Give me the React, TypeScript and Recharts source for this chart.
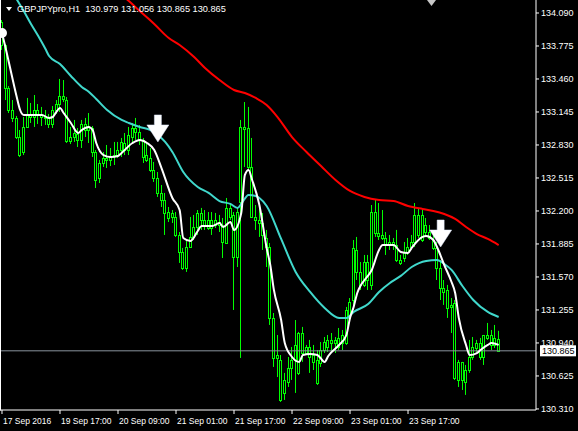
import React from 'react';
import { ComposedChart, Bar, Line, Scatter, XAxis, YAxis, ReferenceLine } from 'recharts';

// H1 bars, left to right
const opens = [
  134.004, 133.785, 133.374, 133.164, 133.088, 132.906, 132.763, 133.002, 133.116, 133.097,
  133.164, 133.126, 133.097, 133.088, 133.030, 133.164, 133.221, 133.298, 133.259, 132.868,
  132.906, 132.935, 132.878, 133.030, 132.973, 132.992, 132.763, 132.515, 132.658, 132.706,
  132.687, 132.725, 132.734, 132.782, 132.849, 132.782, 132.906, 132.992, 132.954, 132.878,
  132.734, 132.706, 132.591, 132.515, 132.372, 132.305, 132.190, 132.181, 132.143, 131.971,
  131.809, 131.656, 131.856, 131.952, 132.047, 132.181, 132.114, 132.114, 132.038, 132.114,
  132.066, 132.066, 131.894, 132.229, 132.162, 131.761, 132.286, 132.983, 132.992, 132.620,
  132.143, 132.114, 132.085, 131.942, 131.856, 131.179, 130.797, 130.778, 130.463, 130.568,
  130.701, 130.778, 130.654, 131.035, 130.844, 130.902, 130.825, 130.778, 130.749, 130.873,
  130.902, 130.969, 130.940, 130.902, 130.940, 130.940, 131.179, 131.350, 131.828, 131.618,
  131.494, 131.713, 131.494, 132.190, 131.990, 131.971, 131.942, 131.875, 131.904, 131.875,
  131.732, 131.751, 131.809, 131.856, 131.904, 131.971, 131.923, 132.066, 131.999, 131.923,
  131.847, 131.656, 131.465, 131.446, 131.284, 131.322, 130.587, 130.759, 130.568, 130.682,
  130.806, 130.892, 130.940, 130.806, 130.988, 131.016, 130.921, 130.979,
];
const highs = [
  134.023, 133.794, 133.393, 133.259, 133.107, 132.973, 133.097, 133.279, 133.231, 133.307,
  133.221, 133.193, 133.164, 133.126, 133.202, 133.259, 133.460, 133.450, 133.288, 133.002,
  133.069, 132.992, 133.069, 133.088, 133.135, 133.011, 132.782, 132.687, 132.763, 132.830,
  132.801, 132.859, 132.859, 132.897, 132.944, 133.002, 133.040, 133.088, 133.021, 132.897,
  132.859, 132.801, 132.668, 132.572, 132.448, 132.372, 132.238, 132.209, 132.190, 131.999,
  131.847, 131.923, 132.143, 132.162, 132.209, 132.229, 132.209, 132.190, 132.190, 132.181,
  132.162, 132.133, 132.324, 132.276, 132.190, 132.238, 133.069, 133.240, 133.193, 132.897,
  132.257, 132.229, 132.181, 132.019, 131.894, 131.226, 131.016, 130.825, 130.654, 130.806,
  130.902, 131.159, 131.045, 131.093, 130.921, 130.969, 130.921, 130.873, 130.949, 130.997,
  131.016, 131.035, 130.997, 131.083, 131.064, 131.284, 131.369, 131.923, 131.952, 131.713,
  131.780, 131.780, 132.257, 132.305, 132.276, 132.209, 131.999, 131.971, 131.942, 132.019,
  131.780, 131.904, 131.942, 131.971, 132.276, 132.229, 132.209, 132.133, 132.066, 131.971,
  131.904, 131.732, 131.541, 131.494, 131.369, 131.350, 130.778, 130.759, 130.730, 130.969,
  130.997, 130.969, 130.988, 131.016, 131.131, 131.064, 131.112, 131.056,
];
const lows = [
  133.737, 133.259, 133.135, 133.049, 132.887, 132.715, 132.734, 132.992, 133.040, 133.002,
  133.030, 133.011, 133.021, 132.992, 132.992, 133.126, 133.145, 133.240, 132.849, 132.839,
  132.859, 132.811, 132.801, 132.906, 132.849, 132.715, 132.419, 132.467, 132.620, 132.610,
  132.629, 132.639, 132.706, 132.715, 132.734, 132.734, 132.849, 132.878, 132.830, 132.658,
  132.668, 132.572, 132.477, 132.334, 132.238, 131.971, 132.095, 132.085, 131.952, 131.704,
  131.637, 131.618, 131.847, 131.923, 131.971, 132.019, 132.019, 132.019, 131.971, 132.038,
  131.999, 131.751, 131.894, 132.114, 131.255, 131.665, 130.797, 132.620, 132.591, 132.133,
  132.019, 131.952, 131.828, 131.665, 131.112, 130.711, 130.615, 130.377, 130.396, 130.520,
  130.587, 130.463, 130.634, 130.759, 130.825, 130.654, 130.682, 130.539, 130.711, 130.844,
  130.854, 130.844, 130.844, 130.873, 130.873, 130.921, 131.159, 131.255, 131.541, 131.446,
  131.474, 131.446, 131.446, 131.952, 131.923, 131.923, 131.780, 131.828, 131.828, 131.713,
  131.684, 131.713, 131.780, 131.828, 131.856, 131.942, 131.904, 131.952, 131.923, 131.828,
  131.541, 131.350, 131.303, 131.179, 131.035, 130.587, 130.520, 130.491, 130.444, 130.654,
  130.778, 130.854, 130.778, 130.730, 130.969, 130.873, 130.892, 130.865,
];
const closes = [
  133.785, 133.374, 133.164, 133.088, 132.906, 132.734, 133.002, 133.116, 133.097, 133.164,
  133.126, 133.097, 133.088, 133.030, 133.164, 133.221, 133.298, 133.269, 132.868, 132.906,
  132.944, 132.878, 133.030, 132.973, 133.011, 132.763, 132.496, 132.658, 132.706, 132.687,
  132.725, 132.734, 132.782, 132.859, 132.782, 132.925, 132.992, 132.954, 132.878, 132.715,
  132.687, 132.591, 132.515, 132.372, 132.305, 132.181, 132.133, 132.143, 131.971, 131.809,
  131.656, 131.856, 131.952, 132.047, 132.181, 132.114, 132.066, 132.038, 132.114, 132.066,
  132.095, 131.904, 132.229, 132.143, 131.761, 132.190, 133.002, 133.002, 132.620, 132.143,
  132.114, 132.085, 131.971, 131.856, 131.179, 130.797, 130.825, 130.396, 130.587, 130.701,
  130.778, 130.921, 131.035, 130.844, 130.902, 130.806, 130.759, 130.558, 130.873, 130.949,
  130.969, 130.940, 130.969, 130.988, 131.016, 131.255, 131.331, 131.847, 131.618, 131.494,
  131.713, 131.541, 132.190, 131.990, 131.961, 131.942, 131.875, 131.904, 131.875, 131.732,
  131.704, 131.809, 131.856, 131.904, 132.162, 132.162, 132.162, 131.999, 131.942, 131.847,
  131.656, 131.465, 131.427, 131.274, 131.303, 130.606, 130.759, 130.587, 130.682, 130.806,
  130.902, 130.940, 130.806, 131.016, 131.016, 130.921, 130.988, 130.865,
];

// moving averages: [bar, price]
const fastMA = [
  [0, 133.899], [1, 133.756], [2, 133.603], [4, 133.298], [5, 133.164], [6, 133.116], [9, 133.116],
  [11, 133.116], [13, 133.088], [14, 133.097], [15, 133.145], [16, 133.183], [17, 133.135], [19, 133.040],
  [21, 132.944], [22, 132.973], [24, 133.002], [25, 132.973], [26, 132.849], [28, 132.734], [30, 132.715],
  [32, 132.725], [33, 132.754], [36, 132.849], [38, 132.878], [40, 132.849], [42, 132.782], [44, 132.610],
  [47, 132.324], [49, 132.209], [50, 131.942], [52, 131.914], [54, 132.009], [55, 132.057], [58, 132.057],
  [60, 132.085], [61, 132.047], [63, 132.095], [64, 132.019], [66, 132.181], [67, 132.544], [68, 132.591],
  [69, 132.496], [71, 132.257], [73, 131.847], [74, 131.684], [75, 131.446], [77, 131.159], [78, 130.940],
  [80, 130.806], [82, 130.759], [83, 130.825], [85, 130.835], [87, 130.825], [89, 130.759], [90, 130.816],
  [93, 130.921], [95, 131.016], [96, 131.179], [97, 131.284], [98, 131.417], [99, 131.494], [100, 131.541],
  [102, 131.637], [104, 131.828], [105, 131.875], [108, 131.875], [110, 131.809], [112, 131.799],
  [113, 131.847], [116, 131.952], [117, 131.961], [119, 131.923], [120, 131.856], [122, 131.684],
  [124, 131.522], [125, 131.417], [126, 131.179], [128, 130.921], [129, 130.825], [131, 130.844],
  [132, 130.873], [134, 130.921], [135, 130.940], [137, 130.921],
];
const midMA = [
  [2, 134.338], [4, 134.224], [6, 134.109], [8, 133.985], [10, 133.870], [12, 133.746], [13, 133.679],
  [16, 133.603], [19, 133.489], [22, 133.384], [24, 133.336], [26, 133.269], [29, 133.164], [33, 133.069],
  [35, 133.040], [38, 133.002], [41, 132.973], [43, 132.925], [45, 132.859], [47, 132.763], [50, 132.572],
  [54, 132.429], [57, 132.372], [60, 132.295], [63, 132.267], [65, 132.229], [66, 132.267], [68, 132.353],
  [70, 132.343], [71, 132.324], [73, 132.248], [77, 131.933], [81, 131.618], [85, 131.427], [89, 131.274],
  [93, 131.179], [95, 131.179], [97, 131.236], [101, 131.312], [104, 131.427], [107, 131.513],
  [110, 131.580], [113, 131.665], [117, 131.723], [120, 131.732], [122, 131.694], [124, 131.637],
  [127, 131.484], [130, 131.350], [134, 131.236], [137, 131.188],
];
const slowMA = [
  [33, 134.262], [35, 134.204], [38, 134.109], [42, 133.985], [46, 133.851], [49, 133.785], [53, 133.670],
  [56, 133.565], [60, 133.450], [64, 133.355], [67, 133.326], [70, 133.279], [73, 133.212], [76, 133.097],
  [80, 132.906], [84, 132.763], [88, 132.629], [92, 132.496], [96, 132.391], [100, 132.334], [104, 132.305],
  [108, 132.295], [112, 132.248], [116, 132.219], [119, 132.200], [122, 132.171], [125, 132.124],
  [128, 132.047], [131, 131.980], [134, 131.933], [137, 131.875],
];

// sell arrows: bar and tip price
const arrowBars = [43, 121];
const arrowTips = [132.859, 131.856];

const timeTicks = [0, 16, 32, 48, 64, 80, 96, 112];
const timeLabels = [
  '17 Sep 2016', '19 Sep 17:00', '20 Sep 09:00', '21 Sep 01:00',
  '21 Sep 17:00', '22 Sep 09:00', '23 Sep 01:00', '23 Sep 17:00',
];
const priceTicks = [
  130.31, 130.625, 130.94, 131.255, 131.57, 131.885, 132.2,
  132.515, 132.83, 133.145, 133.46, 133.775, 134.09,
];
const lastPrice = 130.865;

const candles = opens.map((o, i) => ({
  i,
  o,
  h: highs[i],
  l: lows[i],
  c: closes[i],
  range: [lows[i], highs[i]],
}));
const toPoints = (rows: number[][]) => rows.map(([i, v]) => ({ i, v }));
const arrows = arrowBars.map((i, k) => ({ i, v: arrowTips[k] }));

const FONT = '"Liberation Sans", Arial, sans-serif';
const GREEN = '#00ff00';

const Candle = (props: any) => {
  const { x, y, width, height, payload } = props;
  if (!payload) return null;
  const top = Math.min(y, y + height);
  const span = Math.abs(height);
  const { o, h, l, c } = payload;
  const toY = (v: number) => (h === l ? top : top + ((h - v) / (h - l)) * span);
  const cx = Math.floor(x + width / 2) + 0.5;
  const b1 = Math.round(Math.min(toY(o), toY(c))) + 0.5;
  const b2 = Math.round(Math.max(toY(o), toY(c))) + 0.5;
  return (
    <g>
      <line x1={cx} x2={cx} y1={top} y2={top + span} stroke={GREEN} strokeWidth={1} />
      {b2 - b1 < 1 ? (
        <line x1={cx - 1.5} x2={cx + 1.5} y1={b1} y2={b1} stroke={GREEN} strokeWidth={1} />
      ) : (
        <rect x={cx - 1} y={b1} width={2} height={b2 - b1} fill="#000" stroke={GREEN} strokeWidth={1} />
      )}
    </g>
  );
};

const Arrow = (props: any) => {
  const { cx, cy } = props;
  const pts = [
    [cx - 3.5, cy - 27], [cx + 3.5, cy - 27], [cx + 3.5, cy - 17], [cx + 11, cy - 17],
    [cx, cy], [cx - 11, cy - 17], [cx - 3.5, cy - 17],
  ].map((p) => p.join(',')).join(' ');
  return <polygon points={pts} fill="#fff" stroke="#dfe8ff" strokeWidth={0.5} />;
};

const TimeTick = (props: any) => {
  const { x, y, payload } = props;
  const k = timeTicks.indexOf(payload.value);
  return (
    <text x={x + 1} y={y + 8} fill="#fff" fontSize={8.5} fontFamily={FONT} textAnchor="start">
      {timeLabels[k]}
    </text>
  );
};

const PriceTag = (props: any) => {
  const vb = props.viewBox || {};
  const left = vb.x + vb.width + 4;
  return (
    <g>
      <rect x={left} y={vb.y - 5.5} width={36} height={11} fill="#fff" />
      <text x={left + 2} y={vb.y + 3.5} fontSize={9} fontFamily={FONT} fill="#000">
        {lastPrice.toFixed(3)}
      </text>
    </g>
  );
};

export default function App() {
  return (
    <div style={{ position: 'absolute', left: 0, top: 0, width: 578, height: 431, background: '#000' }}>
      <ComposedChart
        width={578}
        height={431}
        data={candles}
        margin={{ top: 0, right: 0, bottom: 0, left: 0 }}
      >
        <XAxis
          type="number"
          dataKey="i"
          domain={[-0.55, 147.3]}
          allowDataOverflow
          ticks={timeTicks}
          interval={0}
          height={21}
          tickSize={4}
          tickMargin={2}
          axisLine={{ stroke: '#fff' }}
          tickLine={{ stroke: '#fff' }}
          tick={<TimeTick />}
        />
        <YAxis
          type="number"
          orientation="right"
          domain={[130.3, 134.214]}
          allowDataOverflow
          ticks={priceTicks}
          interval={0}
          width={42}
          tickSize={3}
          tickMargin={2}
          tickFormatter={(v: number) => v.toFixed(3)}
          axisLine={{ stroke: '#fff' }}
          tickLine={{ stroke: '#fff' }}
          tick={{ fill: '#fff', fontSize: 9, fontFamily: FONT }}
        />
        <ReferenceLine y={lastPrice} stroke="#8a939e" strokeWidth={1} label={<PriceTag />} />
        <Bar dataKey="range" barSize={3} shape={<Candle />} isAnimationActive={false} />
        <Line data={toPoints(midMA)} dataKey="v" type="monotone" stroke="#40d8cc" strokeWidth={2} dot={false} isAnimationActive={false} />
        <Line data={toPoints(slowMA)} dataKey="v" type="monotone" stroke="#ff0000" strokeWidth={2} dot={false} isAnimationActive={false} />
        <Line data={toPoints(fastMA)} dataKey="v" type="monotone" stroke="#ffffff" strokeWidth={2} dot={false} isAnimationActive={false} />
        <Scatter data={arrows} dataKey="v" shape={<Arrow />} isAnimationActive={false} />
      </ComposedChart>
      <svg
        width={578}
        height={431}
        style={{ position: 'absolute', left: 0, top: 0, pointerEvents: 'none' }}
      >
        <line x1={0.5} x2={0.5} y1={0} y2={410.5} stroke="#fff" strokeWidth={1} />
        <polygon points="6,7 12,7 9,11" fill="#fff" />
        <text x={17} y={11.7} fontSize={9.2} fontFamily={FONT} fill="#fff" style={{ whiteSpace: 'pre' }}>
          {'GBPJPYpro,H1  130.979 131.056 130.865 130.865'}
        </text>
        <polygon points="427,0 436,0 431.5,6" fill="#c8c8c8" />
      </svg>
    </div>
  );
}
